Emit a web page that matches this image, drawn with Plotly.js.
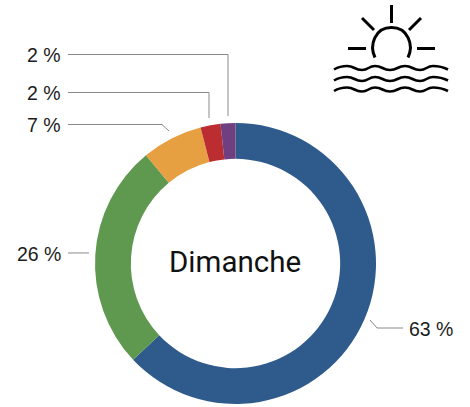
<!DOCTYPE html>
<html>
<head>
<meta charset="utf-8">
<script src="https://cdn.plot.ly/plotly-3.0.1.min.js"></script>
<style>html,body{margin:0;padding:0;background:#fff}#c{width:470px;height:407px}</style>
</head>
<body>
<div id="c"></div>
<script>
var categories = ["A", "B", "C", "D", "E"];
var values = [63, 26, 7, 2.3, 1.7];
var colors = ["#2e5a8c", "#5f9950", "#e6a042", "#bb2d30", "#6f3f7f"];
var centerLabel = "Dimanche";
var labelFont = "Liberation Sans, Arial, sans-serif";
var W = 470, H = 407;
function px(x){return x/W;}
function py(y){return 1-y/H;}
function pt(p){return px(p[0]).toFixed(5)+","+py(p[1]).toFixed(5);}
function svgPath(points){
  return points.map(function(p,i){return (i?"L":"M")+pt(p);}).join(" ");
}
var leaderLines = [
  [[68,54.5],[228,54.5],[228,116]],
  [[68,92.5],[209,92.5],[209,118]],
  [[68,124.5],[162,124.5],[169,131]],
  [[370,320],[377,328],[403,328]],
  [[68,253],[89,253]]
];
var labelPos = [
  [406.5,329,"left"],[61.5,254,"right"],[61.5,125,"right"],[61.5,92.5,"right"],[61.5,55,"right"]
];
var shapes = leaderLines.map(function(l){
  return {type:"path",xref:"paper",yref:"paper",path:svgPath(l),line:{color:"#8a8a8a",width:1}};
});
function ink(path,w){
  return {type:"path",xref:"paper",yref:"paper",path:path,line:{color:"#000",width:w||3}};
}
// sun icon
[[[391.5,5],[391.5,23]],[[362,18],[374,30]],[[421,18],[409,30]],[[348,48.5],[366,48.5]],[[417,48.5],[435,48.5]]].forEach(function(s){
  shapes.push(ink(svgPath(s),3));
});
shapes.push(ink("M"+pt([375,57.5])+" C"+pt([369,45])+" "+pt([375,27.5])+" "+pt([391.5,27.5])+
  " C"+pt([408,27.5])+" "+pt([414,45])+" "+pt([408,57.5]),3));
var waveX = [347,362,375,390,405,420,433];
[68,79,89.5].forEach(function(y){
  var a=2, d="M"+pt([334,y+1.5])+" Q"+pt([340,y-a])+" "+pt([347,y-a]);
  for(var i=1;i<waveX.length;i++){
    var x0=waveX[i-1],x1=waveX[i],y1=y+(i%2?a:-a),y0=y+(i%2?-a:a),m=(x0+x1)/2;
    d+=" C"+pt([m,y0])+" "+pt([m,y1])+" "+pt([x1,y1]);
  }
  d+=" Q"+pt([441,y-a])+" "+pt([448,y+1.5]);
  shapes.push(ink(d,2.6));
});
var annotations = values.map(function(v,i){
  return {xref:"paper",yref:"paper",x:px(labelPos[i][0]),y:py(labelPos[i][1]),
    text:Math.round(v)+" %",showarrow:false,xanchor:labelPos[i][2],yanchor:"middle",
    xshift:labelPos[i][2]=="right"?1:0,
    font:{family:labelFont,size:19.5,color:"#1c1c1c"}};
});
annotations.push({xref:"paper",yref:"paper",x:px(234.5),y:py(262),text:centerLabel,showarrow:false,
  xanchor:"center",yanchor:"middle",font:{family:"Roboto, sans-serif",size:29.5,color:"#111"}});
Plotly.newPlot("c",[{
  type:"pie",labels:categories,values:values,sort:false,direction:"clockwise",rotation:0,
  hole:0.745,textinfo:"none",hoverinfo:"none",
  marker:{colors:colors,line:{width:0}},
  domain:{x:[95/W,376/W],y:[1-404/H,1-123/H]}
}],{
  width:W,height:H,margin:{l:0,r:0,t:0,b:0},showlegend:false,
  paper_bgcolor:"#fff",plot_bgcolor:"#fff",shapes:shapes,annotations:annotations
},{displayModeBar:false,staticPlot:true});
</script>
</body>
</html>
